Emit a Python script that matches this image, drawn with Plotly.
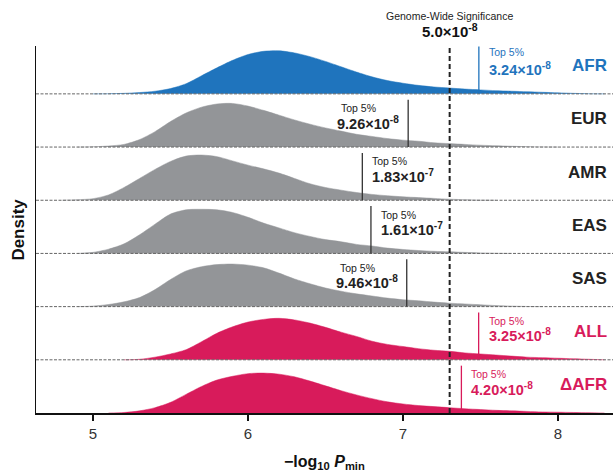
import math
import plotly.graph_objects as go

# ---------------- data ----------------
populations = ["AFR", "EUR", "AMR", "EAS", "SAS", "ALL", "\u0394AFR"]
x_grid = [4.8, 4.9, 5.0, 5.1, 5.2, 5.3, 5.4, 5.5, 5.6, 5.7, 5.8, 5.9, 6.0, 6.1,
          6.2, 6.3, 6.4, 6.5, 6.6, 6.7, 6.8, 6.9, 7.0, 7.1, 7.2, 7.3, 7.4, 7.5,
          7.6, 7.7, 7.8, 7.9, 8.0, 8.1, 8.2, 8.3]
dens_afr = [0, 0, 0, 0.003, 0.01, 0.025, 0.05, 0.1, 0.19, 0.34, 0.49, 0.63, 0.74, 0.8,
            0.81, 0.77, 0.7, 0.61, 0.51, 0.41, 0.32, 0.25, 0.2, 0.16, 0.13, 0.11, 0.09, 0.075,
            0.06, 0.05, 0.04, 0.03, 0.02, 0.01, 0.003, 0]
dens_eur = [0, 0, 0.005, 0.02, 0.05, 0.14, 0.29, 0.48, 0.64, 0.75, 0.81, 0.82, 0.77, 0.69,
            0.6, 0.51, 0.43, 0.36, 0.3, 0.24, 0.2, 0.16, 0.13, 0.11, 0.08, 0.065, 0.05, 0.035,
            0.025, 0.015, 0.008, 0.003, 0, 0, 0, 0]
dens_amr = [0, 0.01, 0.03, 0.1, 0.24, 0.41, 0.58, 0.73, 0.83, 0.85, 0.82, 0.74, 0.66, 0.59,
            0.51, 0.41, 0.31, 0.24, 0.19, 0.145, 0.11, 0.085, 0.065, 0.05, 0.035, 0.02, 0.01, 0.003,
            0, 0, 0, 0, 0, 0, 0, 0]
dens_eas = [0, 0, 0.02, 0.08, 0.18, 0.35, 0.55, 0.74, 0.82, 0.83, 0.82, 0.77, 0.68, 0.57,
            0.48, 0.39, 0.32, 0.26, 0.22, 0.17, 0.14, 0.1, 0.075, 0.055, 0.04, 0.03, 0.02, 0.01,
            0.003, 0, 0, 0, 0, 0, 0, 0]
dens_sas = [0, 0, 0.01, 0.04, 0.09, 0.17, 0.32, 0.51, 0.67, 0.75, 0.79, 0.8, 0.78, 0.73,
            0.63, 0.52, 0.43, 0.35, 0.29, 0.24, 0.2, 0.16, 0.13, 0.11, 0.085, 0.065, 0.05, 0.035,
            0.02, 0.01, 0.003, 0, 0, 0, 0, 0]
dens_all = [0, 0, 0, 0, 0, 0.01, 0.05, 0.11, 0.19, 0.34, 0.5, 0.62, 0.71, 0.76,
            0.78, 0.75, 0.69, 0.61, 0.52, 0.44, 0.35, 0.29, 0.25, 0.21, 0.18, 0.16, 0.13, 0.11,
            0.09, 0.07, 0.05, 0.04, 0.03, 0.02, 0.01, 0]
dens_dafr = [0, 0, 0, 0, 0.01, 0.04, 0.1, 0.2, 0.35, 0.5, 0.62, 0.69, 0.74, 0.75,
             0.73, 0.68, 0.6, 0.51, 0.42, 0.34, 0.27, 0.21, 0.17, 0.14, 0.12, 0.1, 0.08, 0.065,
             0.05, 0.04, 0.03, 0.02, 0.015, 0.01, 0.005, 0]
densities = [dens_afr, dens_eur, dens_amr, dens_eas, dens_sas, dens_all, dens_dafr]

top5_mant = ["3.24", "9.26", "1.83", "1.61", "9.46", "3.25", "4.20"]
top5_exp = [-8, -8, -7, -7, -8, -8, -8]
top5_side = ["right", "left", "right", "right", "left", "right", "right"]
gws_threshold = 5.0e-8

# ---------------- style ----------------
BLUE = "#1f74bd"
GRAY = "#939598"
PINK = "#d81b5b"
fill_colors = [BLUE, GRAY, GRAY, GRAY, GRAY, PINK, PINK]
text_colors = [BLUE, "#222222", "#222222", "#222222", "#222222", PINK, PINK]
line_colors = [BLUE, "#333333", "#333333", "#333333", "#333333", PINK, PINK]
FONT = "Liberation Sans, Arial, Helvetica, sans-serif"
VALUE_TEXT_WIDTH = 62  # px, approx width of the bold value label

n = len(populations)
fig = go.Figure()
for i, (pop, dens) in enumerate(zip(populations, densities)):
    base = n - 1 - i
    nz = [k for k, v in enumerate(dens) if v > 0]
    a = max(nz[0] - 1, 0)
    b = min(nz[-1] + 1, len(dens) - 1)
    xs = x_grid[a:b + 1]
    ys = [base + v for v in dens[a:b + 1]]
    fig.add_trace(go.Scatter(x=[xs[0], xs[-1]], y=[base, base], mode="lines",
                             line=dict(width=0), hoverinfo="skip", showlegend=False))
    fig.add_trace(go.Scatter(x=xs, y=ys, mode="lines",
                             line=dict(width=0.5, color=fill_colors[i], shape="spline", smoothing=0.8),
                             fill="tonexty", fillcolor=fill_colors[i],
                             hoverinfo="skip", showlegend=False))

shapes = []
annotations = []
for i in range(n - 1):
    base = n - 1 - i
    shapes.append(dict(type="line", xref="paper", yref="y", x0=0, x1=1, y0=base, y1=base,
                       line=dict(color="#666666", width=1, dash="3px,1.5px"), layer="above"))

gws_x = -math.log10(gws_threshold)
shapes.append(dict(type="line", xref="x", yref="y", x0=gws_x, x1=gws_x, y0=0, y1=6.9,
                   line=dict(color="#222222", width=2, dash="5px,3px"), layer="above"))

for i, pop in enumerate(populations):
    base = n - 1 - i
    xv = -math.log10(float(top5_mant[i]) * 10 ** top5_exp[i])
    shapes.append(dict(type="line", xref="x", yref="y", x0=xv, x1=xv, y0=base, y1=base + 0.89,
                       line=dict(color=line_colors[i], width=1.3), layer="above"))
    if top5_side[i] == "right":
        xa_t, sh_t = "left", 8
        xa_v, sh_v = "left", 8
    else:
        xa_t, sh_t = "left", -7 - VALUE_TEXT_WIDTH
        xa_v, sh_v = "right", -7
    ty = 0.78 if i == 0 else 0.73
    annotations.append(dict(x=xv, y=base + ty, xref="x", yref="y", text="Top 5%",
                            showarrow=False, xanchor=xa_t, yanchor="middle", xshift=sh_t,
                            font=dict(family=FONT, size=10.5, color=text_colors[i])))
    annotations.append(dict(x=xv, y=base + 0.46, xref="x", yref="y",
                            text="<b>%s\u00d710<sup>%d</sup></b>" % (top5_mant[i], top5_exp[i]),
                            showarrow=False, xanchor=xa_v, yanchor="middle", xshift=sh_v,
                            font=dict(family=FONT, size=14.5, color=text_colors[i])))
    annotations.append(dict(x=1, y=base + 0.53, xref="paper", yref="y", text="<b>%s</b>" % pop,
                            showarrow=False, xanchor="right", yanchor="middle", xshift=-4,
                            font=dict(family=FONT, size=17, color=text_colors[i])))

annotations.append(dict(x=gws_x, y=1.082, xref="x", yref="paper", text="Genome-Wide Significance",
                        showarrow=False, xanchor="center", yanchor="middle",
                        font=dict(family=FONT, size=10.5, color="#222222")))
annotations.append(dict(x=gws_x, y=1.041, xref="x", yref="paper",
                        text="<b>5.0\u00d710<sup>-8</sup></b>",
                        showarrow=False, xanchor="center", yanchor="middle",
                        font=dict(family=FONT, size=15, color="#111111")))
annotations.append(dict(x=-0.031, y=0.5, xref="paper", yref="paper", text="<b>Density</b>",
                        textangle=-90, showarrow=False, xanchor="center", yanchor="middle",
                        font=dict(family=FONT, size=17, color="#111111")))
annotations.append(dict(x=0.5, y=-0.134, xref="paper", yref="paper",
                        text="<b>\u2212log<sub>10</sub> <i>P</i><sub>min</sub></b>",
                        showarrow=False, xanchor="center", yanchor="middle",
                        font=dict(family=FONT, size=16, color="#111111")))

fig.update_layout(
    width=613, height=476,
    margin=dict(l=36, r=0, t=46, b=63),
    paper_bgcolor="white", plot_bgcolor="white",
    showlegend=False,
    shapes=shapes, annotations=annotations,
    xaxis=dict(range=[4.632, 8.355], showline=True, linecolor="#111111", linewidth=1.5,
               ticks="outside", ticklen=6, tickwidth=1.5, tickcolor="#111111",
               tickvals=[5, 6, 7, 8], ticktext=["5", "6", "7", "8"],
               tickfont=dict(family=FONT, size=15, color="#333333"),
               showgrid=False, zeroline=False),
    yaxis=dict(range=[0, 6.9], showline=True, linecolor="#111111", linewidth=1.5,
               showticklabels=False, ticks="", showgrid=False, zeroline=False),
)

fig.write_html("out.html", config={"displayModeBar": False, "staticPlot": True},
               post_script="document.body.style.margin='0';document.body.style.overflow='hidden';")
